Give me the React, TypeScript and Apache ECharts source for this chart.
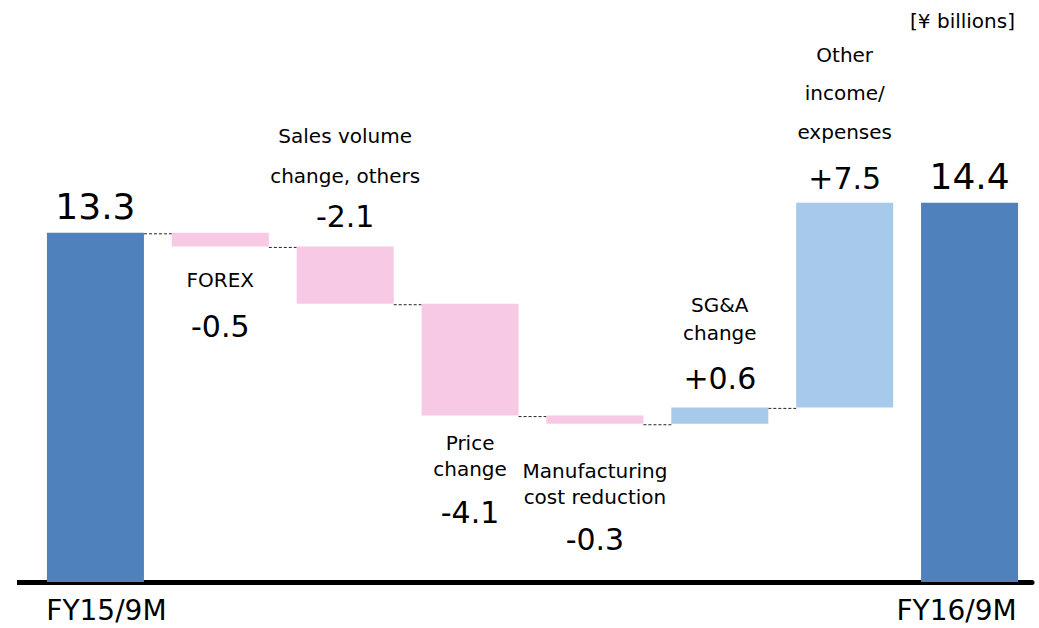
import React, { useEffect, useRef } from "react";
import * as echarts from "echarts";

// ---- data ----
const categories = [
  "FY15/9M",
  "FOREX",
  "Sales volume change, others",
  "Price change",
  "Manufacturing cost reduction",
  "SG&A change",
  "Other income/expenses",
  "FY16/9M",
];
const nameLines: string[][] = [
  [],
  ["FOREX"],
  ["Sales volume", "change, others"],
  ["Price", "change"],
  ["Manufacturing", "cost reduction"],
  ["SG&A", "change"],
  ["Other", "income/", "expenses"],
  [],
];
const startTotal = 13.3;
const changes = [-0.5, -2.1, -4.1, -0.3, 0.6, 7.5];
const endTotal = 14.4;
const valueLabels = ["13.3", "-0.5", "-2.1", "-4.1", "-0.3", "+0.6", "+7.5", "14.4"];
const unitLabel = "[¥ billions]";

// ---- styles / layout ----
const FONT = "DejaVu Sans";
const C_TOTAL = "#4F81BD";
const C_NEG = "#F7C9E4";
const C_POS = "#A7C9EA";
const BAR_W = 97;
const labelLayout = [
  { pos: "top", d: 4, nl: 0, sp: 0, big: true },
  { pos: "bottom", d: 21, nl: 26, sp: 13 },
  { pos: "top", d: 10, nl: 40, sp: 0 },
  { pos: "bottom", d: 14, nl: 26, sp: 11 },
  { pos: "bottom", d: 34, nl: 26, sp: 10 },
  { pos: "top", d: 9, nl: 28, sp: 11 },
  { pos: "top", d: 4, nl: 38.5, sp: 8 },
  { pos: "top", d: 4, nl: 0, sp: 0, big: true },
];

const r1 = (v: number) => Math.round(v * 10) / 10;

function buildBars() {
  const base: number[] = [];
  const height: number[] = [];
  const kind: string[] = [];
  const levels: number[] = [];
  base.push(0);
  height.push(startTotal);
  kind.push("total");
  let level = startTotal;
  levels.push(level);
  changes.forEach((c) => {
    const next = r1(level + c);
    base.push(Math.min(level, next));
    height.push(r1(Math.abs(c)));
    kind.push(c < 0 ? "neg" : "pos");
    level = next;
    levels.push(level);
  });
  base.push(0);
  height.push(endTotal);
  kind.push("total");
  return { base, height, kind, levels };
}

export default function App() {
  const ref = useRef<HTMLDivElement>(null);
  useEffect(() => {
    document.body.style.margin = "0";
    if (!ref.current) return;
    const chart = echarts.init(ref.current, null, { renderer: "svg" });
    const { base, height, kind, levels } = buildBars();

    const deltaData = height.map((h, i) => {
      const L = labelLayout[i];
      const parts: string[] = nameLines[i].map((n) => `{n|${n}}`);
      if (L.sp > 0) parts.push("{s| }");
      parts.push(L.big ? `{b|${valueLabels[i]}}` : `{v|${valueLabels[i]}}`);
      return {
        value: h,
        itemStyle: {
          color: kind[i] === "total" ? C_TOTAL : kind[i] === "neg" ? C_NEG : C_POS,
        },
        label: {
          show: true,
          position: L.pos,
          distance: L.d,
          formatter: parts.join("\n"),
          align: "center",
          rich: {
            n: { fontSize: 20, lineHeight: L.nl || 26, fontFamily: FONT, color: "#000", align: "center" },
            s: { fontSize: 4, lineHeight: L.sp || 1, fontFamily: FONT, align: "center" },
            v: { fontSize: 30, lineHeight: 40, fontFamily: FONT, color: "#000", align: "center" },
            b: { fontSize: 36, lineHeight: 44, fontFamily: FONT, color: "#000", align: "center" },
          },
        },
      };
    });

    const connectorData = levels.map((lv, i) => [i, lv]).slice(0, levels.length - 1);

    chart.setOption({
      animation: false,
      title: {
        text: unitLabel,
        right: 19,
        top: 6,
        textStyle: { fontSize: 20, fontWeight: "normal", color: "#000", fontFamily: FONT },
      },
      graphic: [
        {
          type: "rect",
          shape: { x: 17, y: 580, width: 20, height: 5 },
          style: { fill: "#000" },
          silent: true,
        },
      ],
      grid: { left: 33, right: 7, top: 50, bottom: 46 },
      xAxis: {
        type: "category",
        data: categories,
        axisTick: { show: false },
        axisLine: { onZero: false, lineStyle: { color: "#000", width: 5 } },
        axisLabel: {
          interval: 0,
          margin: 14,
          formatter: (v: string, i: number) =>
            i === 0 ? `{l|${v}}` : i === categories.length - 1 ? `{r|${v}}` : "",
          rich: {
            l: { fontSize: 28, fontFamily: FONT, color: "#000", padding: [0, 0, 0, 22] },
            r: { fontSize: 28, fontFamily: FONT, color: "#000", padding: [0, 26, 0, 0] },
          },
        },
      },
      yAxis: {
        type: "value",
        min: 0.5,
        max: 20,
        show: false,
        splitLine: { show: false },
      },
      series: [
        {
          type: "custom",
          name: "connectors",
          z: 1,
          silent: true,
          data: connectorData,
          renderItem: (params: any, api: any) => {
            const p = api.coord([api.value(0), api.value(1)]);
            const band = api.size([1, 0])[0];
            return {
              type: "line",
              shape: { x1: p[0] + BAR_W / 2, y1: p[1] + 1, x2: p[0] + band - BAR_W / 2, y2: p[1] + 1 },
              style: { stroke: "#222", lineWidth: 1, lineDash: [3, 2] },
            };
          },
        },
        {
          type: "bar",
          name: "base",
          stack: "w",
          barWidth: BAR_W,
          silent: true,
          itemStyle: { color: "transparent" },
          data: base,
          z: 2,
        },
        {
          type: "bar",
          name: "delta",
          stack: "w",
          barWidth: BAR_W,
          data: deltaData,
          z: 3,
        },
      ],
    });
    return () => chart.dispose();
  }, []);
  return <div ref={ref} style={{ width: 1039, height: 628 }} />;
}
